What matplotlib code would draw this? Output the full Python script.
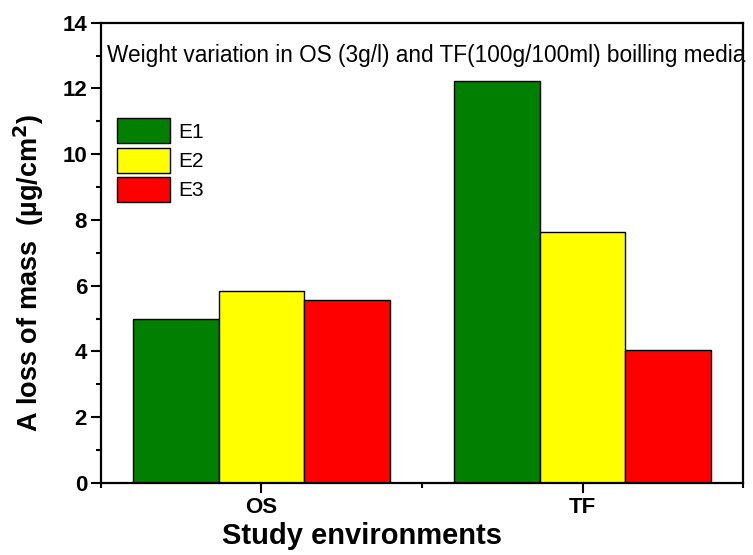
import matplotlib
matplotlib.use("Agg")
import matplotlib.pyplot as plt
from matplotlib.ticker import MultipleLocator
import numpy as np

plt.rcParams["font.family"] = ["Liberation Sans", "DejaVu Sans"]

categories = ["OS", "TF"]
series = ["E1", "E2", "E3"]
e1 = [4.99, 12.23]
e2 = [5.84, 7.63]
e3 = [5.57, 4.04]
colors = ["#007F00", "#FFFF00", "#FF0000"]

fig = plt.figure(figsize=(7.53, 5.55), dpi=100)
ax = fig.add_axes([0.134, 0.13, 0.853, 0.829])

x = np.arange(1, len(categories) + 1)
w = 0.8 / 3
for i, (vals, c, lab) in enumerate(zip([e1, e2, e3], colors, series)):
    ax.bar(x + (i - 1) * w, vals, w, color=c, edgecolor="black", linewidth=1.0, label=lab)

ax.set_xlim(0.5, 2.5)
ax.set_ylim(0, 14)
ax.set_xticks(x)
ax.set_xticklabels(categories)
ax.xaxis.set_minor_locator(MultipleLocator(0.5))
ax.yaxis.set_major_locator(MultipleLocator(2))
ax.yaxis.set_minor_locator(MultipleLocator(1))

for s in ax.spines.values():
    s.set_linewidth(1.6)
ax.tick_params(which="both", direction="out", width=1.5)
ax.tick_params(which="major", length=7, labelsize=16, pad=3)
ax.tick_params(which="minor", length=3.5)
for lbl in ax.get_xticklabels() + ax.get_yticklabels():
    lbl.set_fontweight("bold")

ax.set_xlabel("Study environments", fontsize=21, fontweight="bold")
ax.xaxis.set_label_coords(0.407, -0.086)
ax.set_ylabel("A loss of mass  (\u00b5g/cm$^\\mathbf{2}$)", fontsize=19.5, fontweight="bold")
ax.yaxis.set_label_coords(-0.086, 0.457)

ax.text(0.52, 13.0, "Weight variation in OS (3g/l) and TF(100g/100ml) boilling media",
        fontsize=16.3, va="center", ha="left", clip_on=False)

ax.legend(loc="upper left", bbox_to_anchor=(0.025, 0.792), frameon=False, fontsize=15,
          handlelength=2.55, handleheight=1.47, labelspacing=0.2, handletextpad=0.4,
          borderpad=0, borderaxespad=0)

fig.savefig("out.png", dpi=100)
